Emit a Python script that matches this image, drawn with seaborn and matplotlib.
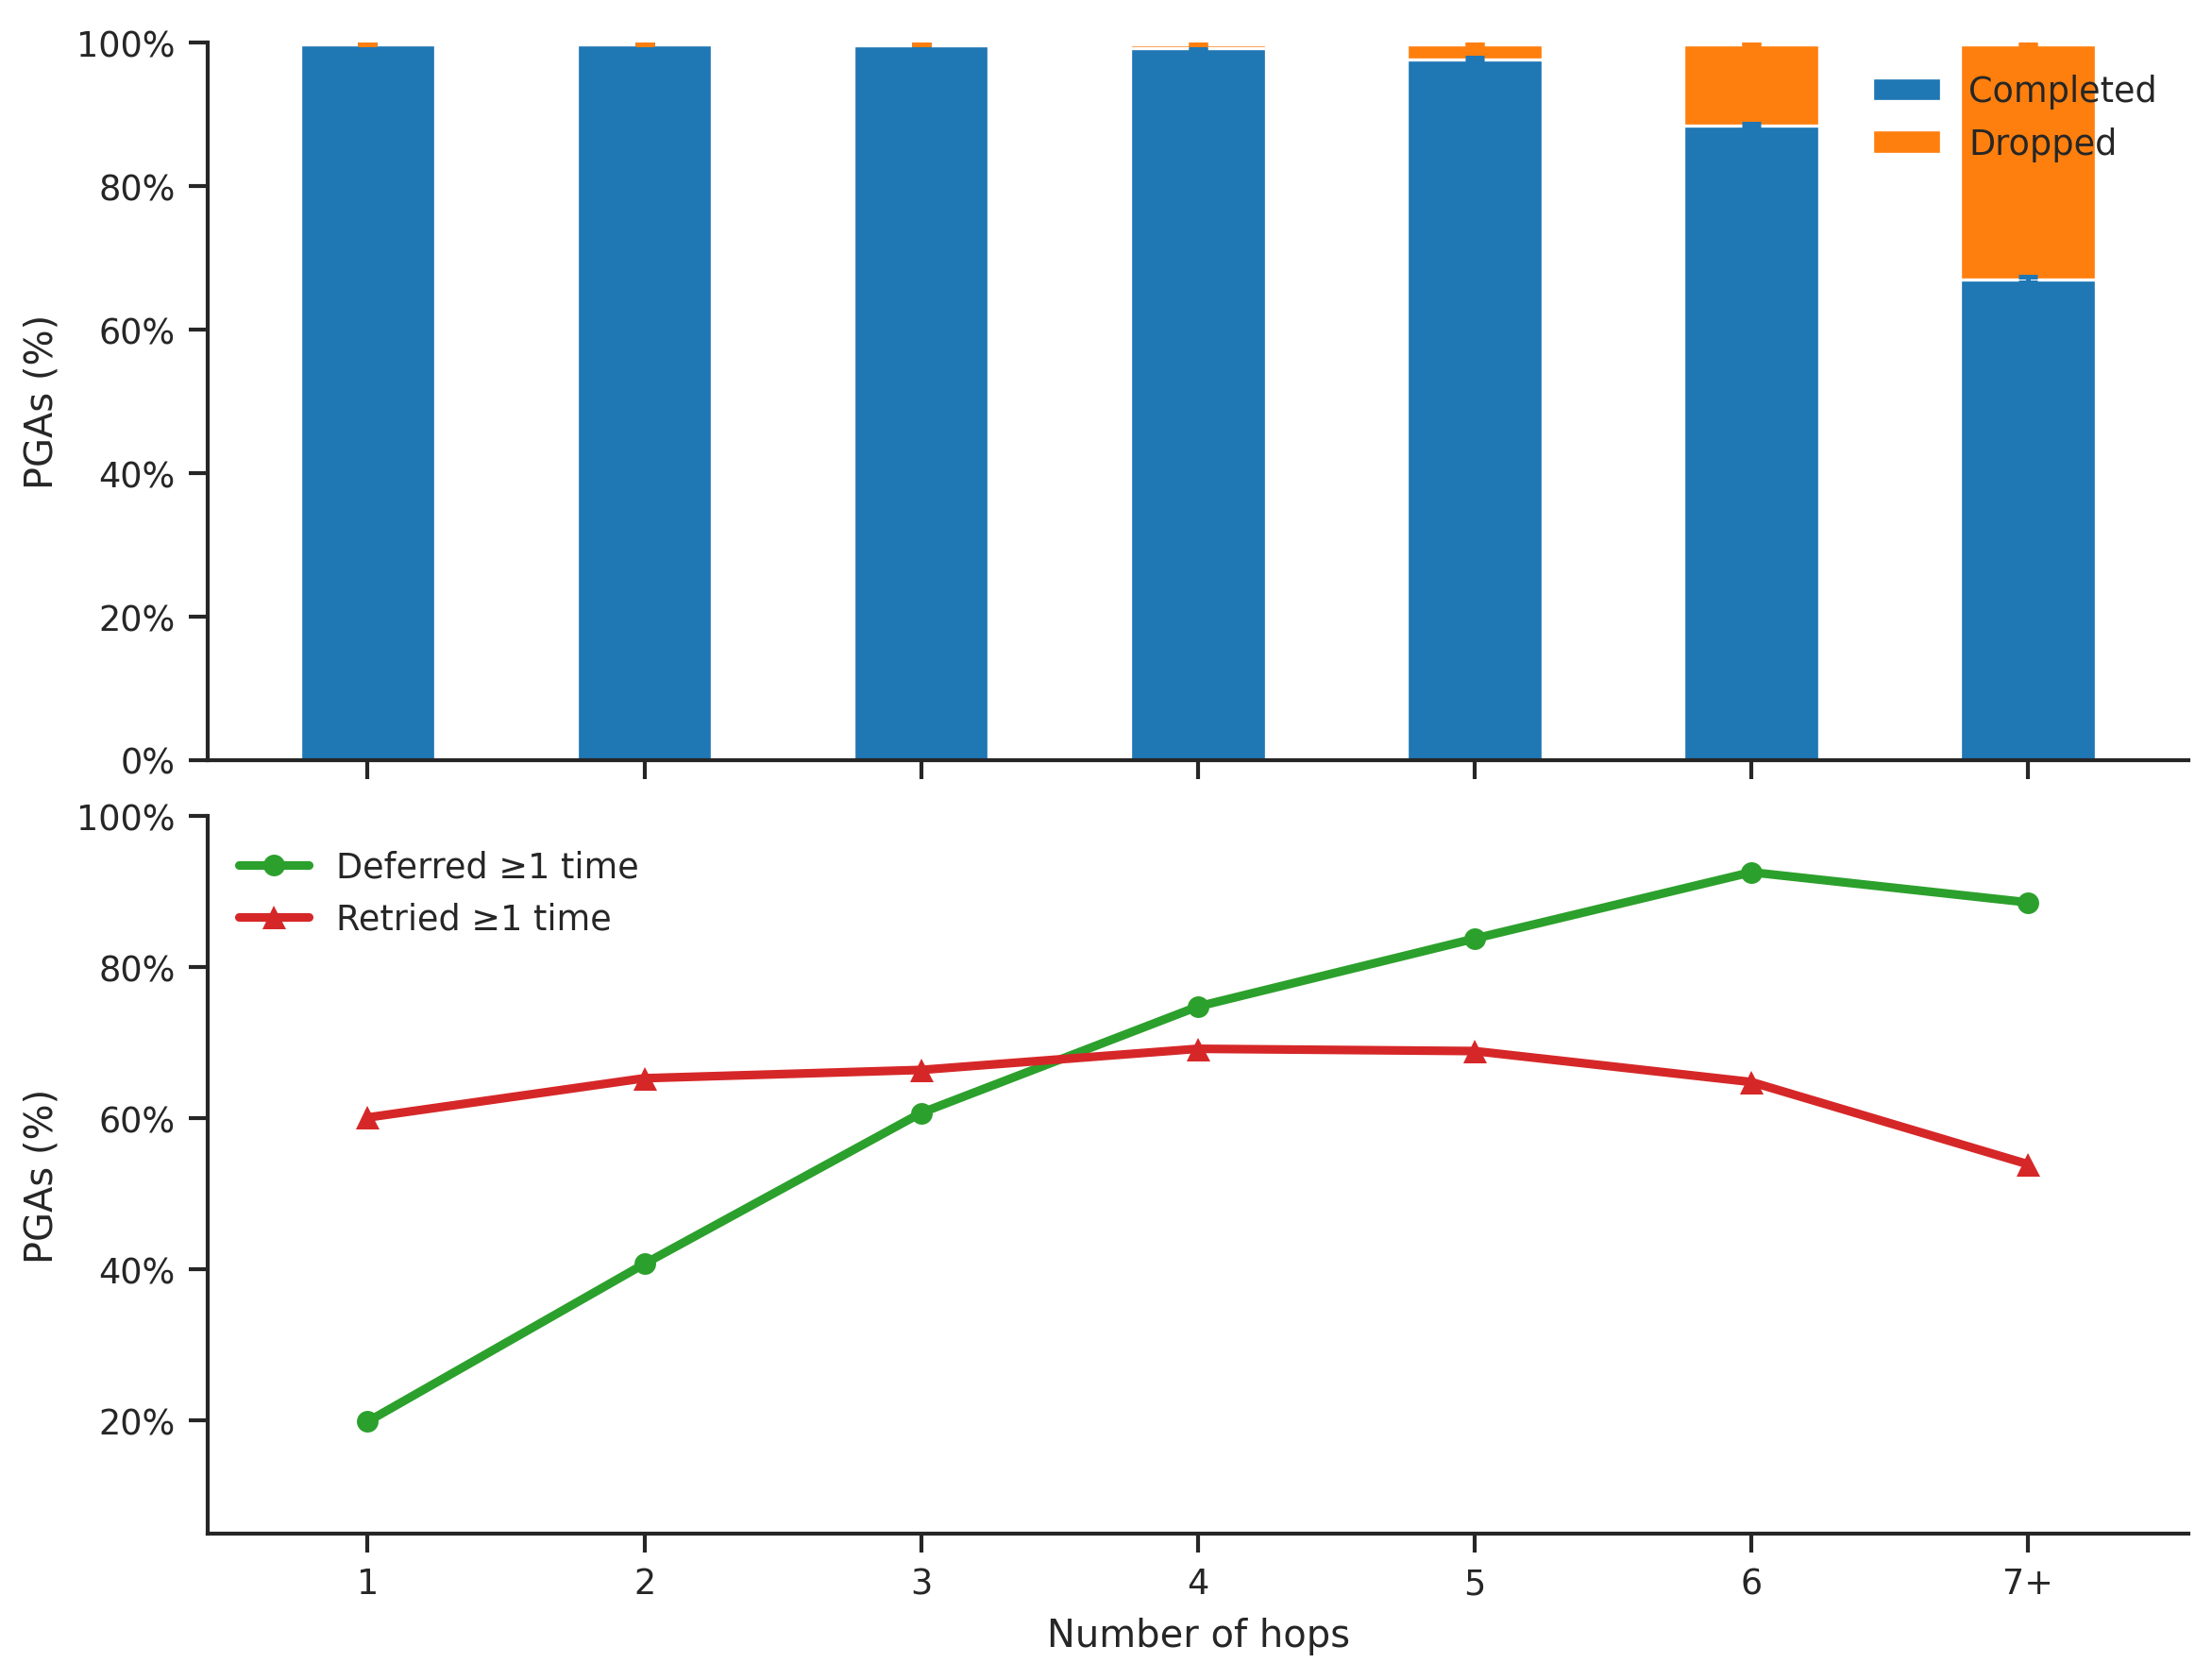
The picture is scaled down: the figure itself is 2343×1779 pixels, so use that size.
import numpy as np
import pandas as pd
import matplotlib
matplotlib.use("Agg")
import matplotlib.pyplot as plt
from matplotlib.ticker import PercentFormatter
import seaborn as sns

# DATA
hops = ["1", "2", "3", "4", "5", "6", "7+"]
completed = [99.85, 99.85, 99.7, 99.2, 97.7, 88.4, 67.0]
dropped = [0.05, 0.05, 0.15, 0.65, 2.15, 11.45, 32.8]
completed_err = [0.05, 0.05, 0.08, 0.15, 0.25, 0.3, 0.35]
dropped_err = [0.05, 0.05, 0.05, 0.05, 0.1, 0.1, 0.15]
deferred = [19.8, 40.7, 60.7, 74.8, 83.8, 92.6, 88.6]
retried = [60.1, 65.3, 66.4, 69.2, 68.9, 64.8, 53.9]

BLUE = "#1f77b4"
ORANGE = "#ff7f0e"
GREEN = "#2ca02c"
RED = "#d62728"

sns.set_theme(style="ticks", context="paper")
plt.rcParams["font.family"] = ["DejaVu Sans"]

fig, (ax1, ax2) = plt.subplots(2, 1, figsize=(7.813, 5.933), dpi=300, sharex=True)
fig.subplots_adjust(left=0.094, right=0.989, top=0.974, bottom=0.0873, hspace=0.079)

pos = np.arange(len(hops))
total = [c + d for c, d in zip(completed, dropped)]
df = pd.DataFrame({"hops": hops, "completed": completed, "total": total})

# TOP: stacked bars
sns.barplot(data=df, x="hops", y="total", color=ORANGE, saturation=1, width=0.49,
            edgecolor="white", linewidth=0.8, ax=ax1, label="Dropped")
sns.barplot(data=df, x="hops", y="completed", color=BLUE, saturation=1, width=0.49,
            edgecolor="white", linewidth=0.8, ax=ax1, label="Completed")
ax1.errorbar(pos, completed, yerr=completed_err, fmt="none", ecolor=BLUE,
             elinewidth=1.2, capsize=2.5, capthick=1.2)
ax1.errorbar(pos, total, yerr=dropped_err, fmt="none", ecolor=ORANGE,
             elinewidth=1.2, capsize=2.5, capthick=1.2)
ax1.set_ylim(0, 100)
ax1.set_yticks([0, 20, 40, 60, 80, 100])
ax1.yaxis.set_major_formatter(PercentFormatter(decimals=0))
ax1.set_ylabel("PGAs (%)")
ax1.set_xlabel("")
h, l = ax1.get_legend_handles_labels()
ax1.legend(h[::-1], l[::-1], loc="upper right", frameon=False, fontsize=8.8,
           bbox_to_anchor=(1.0, 1.0), handlelength=2.0)
ax1.tick_params(axis="x", labelbottom=False)

# BOTTOM: lines
sns.lineplot(x=pos, y=deferred, color=GREEN, marker="o", markersize=5.5,
             markeredgewidth=0, linewidth=2.2, ax=ax2, label="Deferred \u22651 time")
sns.lineplot(x=pos, y=retried, color=RED, marker="^", markersize=6,
             markeredgewidth=0, linewidth=2.2, ax=ax2, label="Retried \u22651 time")
ax2.set_ylim(5, 100)
ax2.set_yticks([20, 40, 60, 80, 100])
ax2.yaxis.set_major_formatter(PercentFormatter(decimals=0))
ax2.set_ylabel("PGAs (%)")
ax2.set_xlabel("Number of hops")
ax2.set_xticks(pos)
ax2.set_xticklabels(hops)
ax2.set_xlim(-0.577, 6.58)
ax2.legend(loc="upper left", frameon=False, fontsize=8.8, bbox_to_anchor=(0.0, 0.997))

sns.despine(fig=fig)
fig.savefig("out.png", dpi=300)
